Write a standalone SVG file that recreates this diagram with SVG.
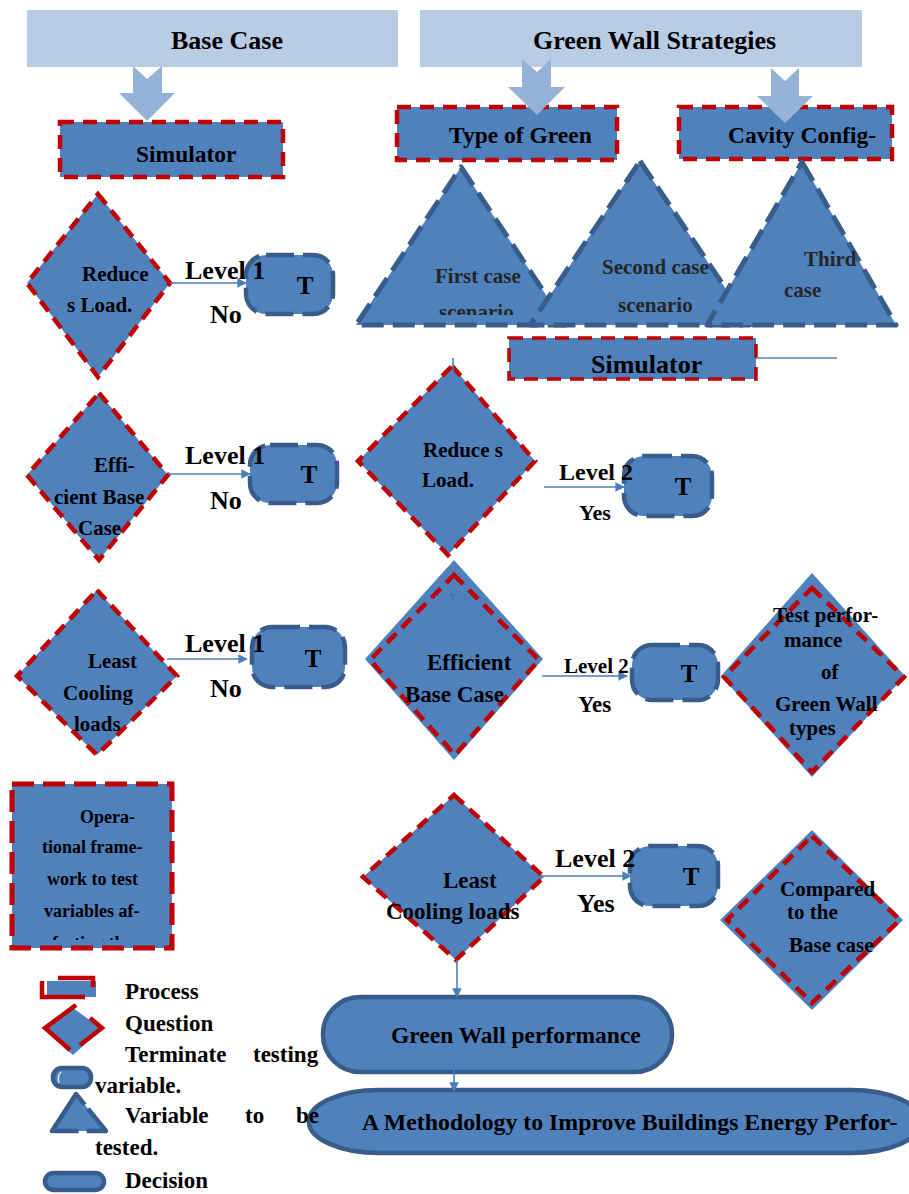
<svg xmlns="http://www.w3.org/2000/svg" width="909" height="1194" viewBox="0 0 909 1194">
  <defs>
    <style>
      .hdr { fill: #b8cce4; }
      .blk { fill: #95b3d7; }
      .proc { fill: #4f81bd; stroke: #c00000; stroke-width: 4.5; stroke-dasharray: 14 9; }
      .quest { fill: #4f81bd; stroke: #c00000; stroke-width: 4.5; stroke-dasharray: 13 8; }
      .plain { fill: #4f81bd; }
      .reddash { fill: none; stroke: #c00000; stroke-width: 4.5; stroke-dasharray: 13 8; }
      .term { fill: #4f81bd; stroke: #385d8a; stroke-width: 4.5; stroke-dasharray: 28 9; }
      .tri { fill: #4f81bd; stroke: #385d8a; stroke-width: 5; stroke-dasharray: 22 9; stroke-linejoin: round; }
      .pill { fill: #4f81bd; stroke: #385d8a; stroke-width: 4.5; }
      .conn { fill: none; stroke: #4a7ebb; stroke-width: 1.6; }
      text { font-family: "Liberation Serif", "Times New Roman", serif; font-weight: bold; fill: #000; }
      .grey { fill: #262626; }
    </style>
    <marker id="arr" viewBox="0 0 10 10" refX="9" refY="5" markerWidth="6" markerHeight="6" orient="auto" markerUnits="strokeWidth">
      <path d="M0,0 L10,5 L0,10 Z" fill="#4a7ebb"/>
    </marker>
    <clipPath id="clipOp"><rect x="12" y="783" width="161" height="157"/></clipPath>
    <clipPath id="clipTri1"><rect x="350" y="160" width="220" height="155"/></clipPath>
  </defs>

  <!-- header bars -->
  <g id="base-case">
    <rect class="hdr" x="27" y="10" width="371" height="57"/>
    <text x="171" y="49" font-size="26">Base Case</text>
  </g>
  <g id="green-wall-strategies">
    <rect class="hdr" x="420" y="10" width="442" height="57"/>
    <text x="533" y="49" font-size="26">Green Wall Strategies</text>
  </g>

  <!-- process boxes -->
  <g id="simulator-base">
    <rect class="proc" x="60" y="122" width="223" height="55"/>
    <text x="136" y="162" font-size="23.5">Simulator</text>
  </g>
  <g id="type-of-green">
    <rect class="proc" x="397" y="107" width="220" height="53"/>
    <text x="449" y="143" font-size="23.5">Type of Green</text>
  </g>
  <g id="cavity-config">
    <rect class="proc" x="679" y="107" width="213" height="52"/>
    <text x="728" y="143" font-size="23.5">Cavity Config-</text>
  </g>

  <!-- block arrows from the header bars -->
  <g id="block-arrows">
    <polygon class="blk" points="133,66 147,79 162,66 162,93 175,93 147,121 119,93 133,93"/>
    <polygon class="blk" points="522,59 537,72 551,59 551,87 565,87 537,115 508,87 522,87"/>
    <polygon class="blk" points="771,68 785,81 799,68 799,96 813,96 785,123 757,96 771,96"/>
  </g>

  <!-- scenario triangles -->
  <g id="first-case">
    <polygon class="tri" points="461,167 566,325 356,325"/>
    <text class="grey" x="435" y="283" font-size="21">First case</text>
    <text class="grey" x="439" y="319" font-size="21" clip-path="url(#clipTri1)">scenario</text>
  </g>
  <g id="second-case">
    <polygon class="tri" points="640,161 750,325 530,325"/>
    <text class="grey" x="602" y="274" font-size="21">Second case</text>
    <text class="grey" x="618" y="312" font-size="21">scenario</text>
  </g>
  <g id="third-case">
    <polygon class="tri" points="802,162 896,325 707,325"/>
    <text class="grey" x="804" y="266" font-size="21">Third</text>
    <text class="grey" x="784" y="297" font-size="21">case</text>
  </g>

  <g id="simulator-green">
    <rect class="proc" x="509" y="338" width="247" height="41" style="stroke-width:3.5"/>
    <text x="591" y="373" font-size="26">Simulator</text>
  </g>

  <!-- base case questions -->
  <g id="q-reduce-base">
    <polygon class="quest" points="98,194 170,283 98,377 27,283"/>
    <text x="82" y="281" font-size="21">Reduce</text>
    <text x="67" y="312" font-size="21">s Load.</text>
  </g>
  <g id="q-efficient-base">
    <polygon class="quest" points="99,393 168,475 99,560 27,475"/>
    <text x="94" y="472" font-size="21">Effi-</text>
    <text x="54" y="504" font-size="21">cient Base</text>
    <text x="78" y="535" font-size="21">Case</text>
  </g>
  <g id="q-cooling-base">
    <polygon class="quest" points="97,590 177,676 97,755 17,676"/>
    <text x="88" y="668" font-size="21">Least</text>
    <text x="63" y="700" font-size="21">Cooling</text>
    <text x="74" y="731" font-size="21">loads</text>
  </g>

  <g id="operational-framework">
    <rect class="proc" x="12" y="784" width="160" height="164" style="stroke-width:5;stroke-dasharray:22 9"/>
    <g font-size="18">
      <text x="80" y="823">Opera-</text>
      <text x="42" y="853">tional frame-</text>
      <text x="47" y="885">work to test</text>
      <text x="44" y="917">variables af-</text>
      <text x="52" y="949" clip-path="url(#clipOp)">fecting the</text>
    </g>
  </g>

  <!-- terminate boxes -->
  <g id="term-1">
    <rect class="term" x="246" y="255" width="87" height="59" rx="20"/>
    <text x="305" y="294" font-size="25" text-anchor="middle">T</text>
  </g>
  <g id="term-2">
    <rect class="term" x="250" y="445" width="87" height="58" rx="20"/>
    <text x="309" y="483" font-size="25" text-anchor="middle">T</text>
  </g>
  <g id="term-3">
    <rect class="term" x="252" y="627" width="93" height="60" rx="20"/>
    <text x="313" y="667" font-size="25" text-anchor="middle">T</text>
  </g>
  <g id="term-4">
    <rect class="term" x="624" y="456" width="88" height="60" rx="20"/>
    <text x="683" y="495" font-size="25" text-anchor="middle">T</text>
  </g>
  <g id="term-5">
    <rect class="term" x="632" y="645" width="86" height="55" rx="20"/>
    <text x="689" y="682" font-size="25" text-anchor="middle">T</text>
  </g>
  <g id="term-6">
    <rect class="term" x="630" y="846" width="88" height="60" rx="20"/>
    <text x="691" y="885" font-size="25" text-anchor="middle">T</text>
  </g>

  <!-- green wall questions -->
  <g id="q-reduce-green">
    <polygon class="quest" points="452,366 535,461 448,555 358,461"/>
    <text x="423" y="457" font-size="21">Reduce s</text>
    <text x="422" y="487" font-size="21">Load.</text>
  </g>
  <g id="q-efficient-green">
    <polygon class="plain" points="454,560 543,659 454,760 365,659"/>
    <polygon class="reddash" points="454,575 539,660 455,755 370,660"/>
    <text x="427" y="670" font-size="23">Efficient</text>
    <text x="405" y="702" font-size="23">Base Case</text>
  </g>
  <g id="test-performance">
    <polygon class="plain" points="812,573 905,676 812,777 721,676"/>
    <polygon class="reddash" points="812,588 904,677 812,772 724,677"/>
    <text x="773" y="622" font-size="21">Test perfor-</text>
    <text x="784" y="647" font-size="21">mance</text>
    <text x="821" y="679" font-size="21">of</text>
    <text x="775" y="711" font-size="21">Green Wall</text>
    <text x="789" y="735" font-size="21">types</text>
  </g>
  <g id="q-cooling-green">
    <polygon class="quest" points="454,795 544,877 456,960 363,877"/>
    <text x="443" y="888" font-size="23">Least</text>
    <text x="386" y="919" font-size="23">Cooling loads</text>
  </g>
  <g id="compared-base">
    <polygon class="plain" points="812,830 903,920 812,1010 720,920"/>
    <polygon class="reddash" points="812,836 900,920 812,1003 727,920"/>
    <text x="780" y="896" font-size="21">Compared</text>
    <text x="787" y="919" font-size="21">to the</text>
    <text x="789" y="952" font-size="21">Base case</text>
  </g>

  <!-- decisions -->
  <g id="green-wall-performance">
    <rect class="pill" x="323" y="997" width="349" height="75" rx="37"/>
    <text x="391" y="1043" font-size="23.5">Green Wall performance</text>
  </g>
  <g id="methodology">
    <rect class="pill" x="309" y="1090" width="612" height="63" rx="70" ry="31"/>
    <text x="362" y="1130" font-size="23.8">A Methodology to Improve Buildings Energy Perfor-</text>
  </g>

  <!-- connectors and branch labels -->
  <g id="connectors">
    <line class="conn" x1="170" y1="283" x2="246" y2="283" marker-end="url(#arr)"/>
    <line class="conn" x1="168" y1="474" x2="250" y2="474" marker-end="url(#arr)"/>
    <line class="conn" x1="167" y1="659" x2="247" y2="659" marker-end="url(#arr)"/>
    <line class="conn" x1="544" y1="487" x2="624" y2="487" marker-end="url(#arr)"/>
    <line class="conn" x1="542" y1="676" x2="627" y2="676" marker-end="url(#arr)"/>
    <line class="conn" x1="541" y1="876" x2="631" y2="876" marker-end="url(#arr)"/>
    <line class="conn" x1="457" y1="960" x2="457" y2="997" marker-end="url(#arr)"/>
    <line class="conn" x1="454" y1="1053" x2="454" y2="1091" marker-end="url(#arr)"/>
    <line class="conn" x1="453" y1="358" x2="453" y2="397"/>
    <line class="conn" x1="756" y1="358" x2="837" y2="358"/>
    <polygon points="449,593 457,593 453,601" fill="#4576b0"/>

    <g font-size="26">
      <text x="185" y="279">Level 1</text>
      <text x="210" y="323">No</text>
      <text x="185" y="464">Level 1</text>
      <text x="210" y="509">No</text>
      <text x="185" y="652">Level 1</text>
      <text x="210" y="697">No</text>
    </g>
    <text x="559" y="480" font-size="24">Level 2</text>
    <text x="579" y="520" font-size="22">Yes</text>
    <text x="564" y="673" font-size="21">Level 2</text>
    <text x="578" y="712" font-size="23">Yes</text>
    <text x="555" y="867" font-size="26">Level 2</text>
    <text x="577" y="912" font-size="26">Yes</text>
  </g>

  <!-- key -->
  <g id="legend">
    <rect x="47" y="981" width="49" height="16" fill="#4f81bd"/>
    <path d="M58,978 H93 V987 M42,981 V997 H85" fill="none" stroke="#c00000" stroke-width="4.5"/>
    <text x="125" y="999" font-size="23">Process</text>

    <polygon points="73,1008 102,1029 73,1055 44,1029" fill="#4f81bd"/>
    <path d="M76,1005 L45,1028 L70,1050 M90,1018 L102,1028 L80,1045" fill="none" stroke="#c00000" stroke-width="4.5"/>
    <text x="125" y="1031" font-size="23">Question</text>

    <rect x="53" y="1068" width="38" height="19" rx="9" fill="#4f81bd" stroke="#385d8a" stroke-width="4.5"/>
    <path d="M61,1072 q-4,4 -2,11" fill="none" stroke="#dbe5f1" stroke-width="1.5"/>
    <text x="125" y="1062" font-size="23">Terminate</text>
    <text x="253" y="1062" font-size="23">testing</text>
    <text x="95" y="1093" font-size="23">variable.</text>

    <path d="M76,1094 L106,1131 L52,1131 Z" fill="#4f81bd" stroke="#385d8a" stroke-width="4.5" stroke-linejoin="round" stroke-dasharray="14 5 48 8 200"/>
    <text x="125" y="1123" font-size="23">Variable</text>
    <text x="245" y="1123" font-size="23">to</text>
    <text x="296" y="1123" font-size="23">be</text>
    <text x="95" y="1155" font-size="23">tested.</text>

    <rect x="45" y="1173" width="59" height="17" rx="8.5" fill="#4f81bd" stroke="#385d8a" stroke-width="4.5"/>
    <text x="125" y="1188" font-size="23">Decision</text>
  </g>
</svg>
